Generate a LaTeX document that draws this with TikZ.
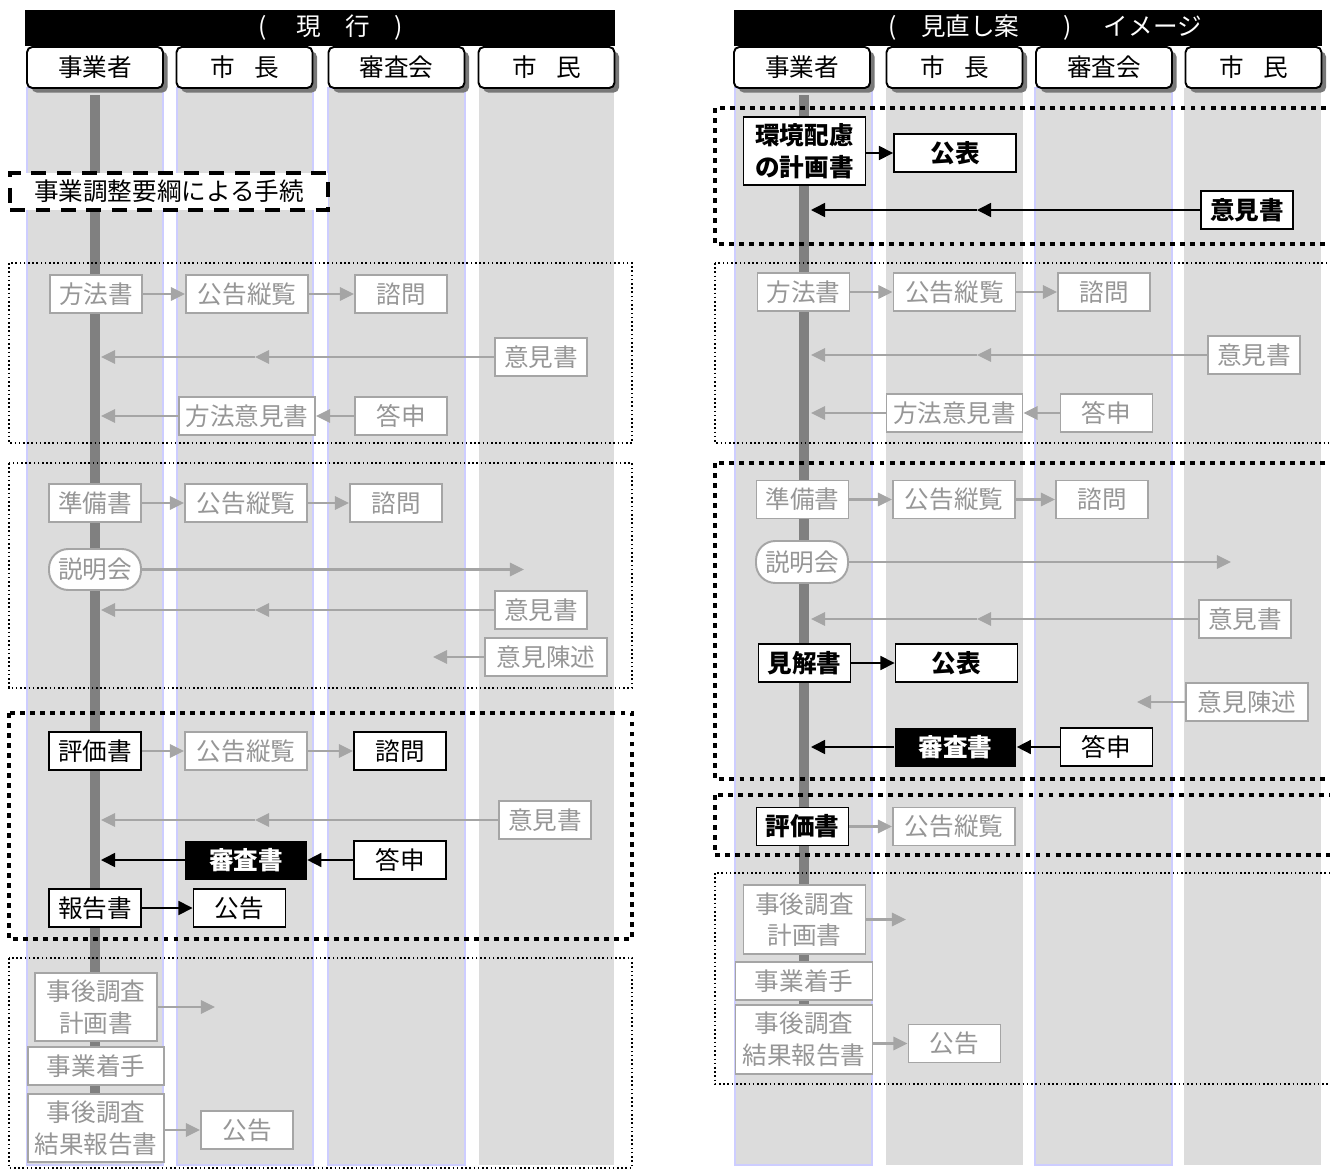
\documentclass[tikz,border=0pt]{standalone}
\usepackage{fontspec}
\setmainfont{Noto Sans CJK JP}
\usepackage{tikz}
\usetikzlibrary{arrows.meta,positioning,shadows}
\definecolor{eaLane}  {RGB}{220,220,220}
\definecolor{eaLaneB} {RGB}{205,205,255}
\definecolor{eaSpine} {RGB}{128,128,128}
\definecolor{eaGreyT} {RGB}{150,150,150}
\definecolor{eaGreyB} {RGB}{165,165,165}
\definecolor{eaShadow}{RGB}{120,120,120}

\begin{document}
\begin{tikzpicture}[x=0.02cm,y=-0.02cm,
  every node/.style={font=\fontsize{14}{18}\selectfont,inner sep=0pt},
  lane/.style={fill=eaLane},
  laneb/.style={fill=eaLane,draw=eaLaneB,line width=0.6pt},
  ttl/.style={fill=black,text=white,minimum height=0.72cm},
  head/.style={draw,fill=white,line width=1.1pt,rounded corners=3pt,
               minimum width=2.72cm,minimum height=0.82cm,
               drop shadow={shadow xshift=2.6pt,shadow yshift=-2.6pt,
                            fill=eaShadow,opacity=1}},
  spine/.style={draw=eaSpine,line width=5.7pt},
  gdoc/.style={draw=eaGreyB,fill=white,text=eaGreyT,line width=1.1pt,
               minimum width=1.84cm,minimum height=0.76cm,align=center},
  bdoc/.style={draw,fill=white,line width=1.1pt,
               minimum width=1.84cm,minimum height=0.76cm,align=center},
  bbdoc/.style={bdoc,font=\fontsize{14}{18}\selectfont\bfseries},
  sdoc/.style={fill=black,text=white,font=\fontsize{14}{18}\selectfont\bfseries,
               minimum width=2.44cm,minimum height=0.78cm},
  pill/.style={gdoc,rounded corners=11pt},
  garr/.style={draw=eaGreyB,line width=1.3pt,-{Triangle[length=8pt,width=7.5pt]}},
  barr/.style={draw=black,line width=0.9pt,-{Triangle[length=8pt,width=8pt]}},
  thinfr/.style={draw,line width=0.9pt,dash pattern=on 0.9pt off 1.5pt},
  thickfr/.style={draw,line width=2.8pt,dash pattern=on 2.8pt off 2.9pt},
  dashfr/.style={draw,fill=white,line width=1.9pt,dash pattern=on 8.5pt off 6pt}
]
\path[use as bounding box,clip] (0,0) rectangle (1330,1170);

% lanes
\fill[laneb] (27,88) rectangle (163,1165);
\fill[laneb] (177,88) rectangle (313,1165);
\fill[laneb] (328,88) rectangle (465,1165);
\fill[lane]  (479,88) rectangle (614,1165);
\fill[laneb] (735,88) rectangle (872,1165);
\fill[lane]  (886,88) rectangle (1023,1165);
\fill[laneb] (1035,88) rectangle (1172,1165);
\fill[lane]  (1184,88) rectangle (1321,1165);

\draw[spine] (95,95) -- (95,1098);
\draw[spine] (804,95) -- (804,1010);

\coordinate (spL) at (101,0);
\coordinate (midL) at (255,0);
\coordinate (spR) at (811,0);
\coordinate (midR) at (977,0);

% frames
\draw[thinfr]  (9,263) rectangle (632,443);
\draw[thinfr]  (9,463) rectangle (632,688);
\draw[thickfr] (9,713) rectangle (632,939);
\draw[thinfr]  (9,958) rectangle (632,1168);
\draw[thickfr] (715,108) rectangle (1345,244);
\draw[thinfr]  (715,263) rectangle (1345,443);
\draw[thickfr] (715,463) rectangle (1345,779);
\draw[thickfr] (715,795) rectangle (1345,855);
\draw[thinfr]  (715,873) rectangle (1345,1084);

% ---- current procedure
\node[ttl,minimum width=11.8cm] (ttlL) at (320,28)
  {\hspace{0.44cm}(\hspace{1.2em}現\hspace{1em}行\hspace{1em})};
\node[head] (hL1) at (95,67.5)  {事業者};
\node[head] (hL2) at (244.5,67.5) {市\hspace{0.8em}長};
\node[head] (hL3) at (396.5,67.5) {審査会};
\node[head] (hL4) at (546.5,67.5) {市\hspace{0.8em}民};

\node[dashfr,minimum width=6.36cm,minimum height=0.74cm] (prL) at (169,191.5)
  {事業調整要綱による手続};

\node[gdoc] (mL) at (96,294) {方法書};
\node[gdoc,minimum width=2.44cm] (kL1) at (247,294) {公告縦覧};
\node[gdoc] (sL1) at (401,294) {諮問};
\node[gdoc] (iL1) at (541,357) {意見書};
\node[gdoc,minimum width=2.72cm] (moL) at (247,416) {方法意見書};
\node[gdoc] (tL1) at (401,416) {答申};

\node[gdoc] (jL) at (95,503) {準備書};
\node[gdoc,minimum width=2.44cm] (kL2) at (246,503) {公告縦覧};
\node[gdoc] (sL2) at (396,503) {諮問};
\node[pill,minimum height=0.82cm] (eL) at (95,569.5) {説明会};
\coordinate (eLend) at (524,569.5);
\node[gdoc] (iL2) at (541,610) {意見書};
\node[gdoc,minimum width=2.44cm] (cL) at (546,657) {意見陳述};
\coordinate (cLend) at (433,657);

\node[bdoc] (hyL) at (95,751) {評価書};
\node[gdoc,minimum width=2.44cm] (kL3) at (246,751) {公告縦覧};
\node[bdoc] (sL3) at (400,751) {諮問};
\node[gdoc] (iL3) at (545,820) {意見書};
\node[sdoc] (shL) at (246,860) {審査書};
\node[bdoc] (tL3) at (400,860) {答申};
\node[bdoc] (rL) at (95,908) {報告書};
\node[bdoc] (pL) at (239.5,908) {公告};

\node[gdoc,minimum width=2.44cm,minimum height=1.36cm] (jgL) at (96,1007) {事後調査\\計画書};
\coordinate (jgLend) at (215,1007);
\node[gdoc,minimum width=2.72cm] (cjL) at (96,1066) {事業着手};
\node[gdoc,minimum width=2.72cm,minimum height=1.36cm] (jkL) at (96,1128) {事後調査\\結果報告書};
\node[gdoc] (pL2) at (247,1130) {公告};

\draw[garr] (mL) -- (kL1);
\draw[garr] (kL1) -- (sL1);
\draw[garr] (iL1.west) -- (iL1.west -| midL);
\draw[garr] (iL1.west -| midL) -- (iL1.west -| spL);
\draw[garr] (tL1) -- (moL);
\draw[garr] (moL.west) -- (moL.west -| spL);
\draw[garr] (jL) -- (kL2);
\draw[garr] (kL2) -- (sL2);
\draw[garr] (eL) -- (eLend);
\draw[garr] (iL2.west) -- (iL2.west -| midL);
\draw[garr] (iL2.west -| midL) -- (iL2.west -| spL);
\draw[garr] (cL) -- (cLend);
\draw[garr] (hyL) -- (kL3);
\draw[garr] (kL3) -- (sL3);
\draw[garr] (iL3.west) -- (iL3.west -| midL);
\draw[garr] (iL3.west -| midL) -- (iL3.west -| spL);
\draw[barr] (tL3) -- (shL);
\draw[barr] (shL.west) -- (shL.west -| spL);
\draw[barr] (rL) -- (pL);
\draw[garr] (jgL) -- (jgLend);
\draw[garr] (jkL.east |- pL2) -- (pL2);

% ---- revised procedure
\node[ttl,minimum width=11.76cm] (ttlR) at (1028,28)
  {\hspace{0.68cm}(\hspace{1em}見直し案\hspace{1.8em})\hspace{1.3em}イメージ};
\node[head] (hR1) at (802,67.5)    {事業者};
\node[head] (hR2) at (954.5,67.5)  {市\hspace{0.8em}長};
\node[head] (hR3) at (1104,67.5)   {審査会};
\node[head] (hR4) at (1253.5,67.5) {市\hspace{0.8em}民};

\node[bbdoc,minimum width=2.44cm,minimum height=1.36cm] (kpR) at (804.5,151) {環境配慮\\の計画書};
\node[bbdoc,minimum width=2.44cm] (kohR1) at (955,153) {公表};
\node[bbdoc] (iR0) at (1247,210) {意見書};

\node[gdoc] (mR) at (803.5,292) {方法書};
\node[gdoc,minimum width=2.44cm] (kR1) at (954.5,292) {公告縦覧};
\node[gdoc] (sR1) at (1104,292) {諮問};
\node[gdoc] (iR1) at (1254,355) {意見書};
\node[gdoc,minimum width=2.72cm] (moR) at (954.5,413) {方法意見書};
\node[gdoc] (tR1) at (1106.5,413) {答申};

\node[gdoc] (jR) at (802.5,499.5) {準備書};
\node[gdoc,minimum width=2.44cm] (kR2) at (954,499.5) {公告縦覧};
\node[gdoc] (sR2) at (1102,499.5) {諮問};
\node[pill,minimum height=0.84cm] (eR) at (802,562) {説明会};
\coordinate (eRend) at (1231,562);
\node[gdoc] (iR2) at (1245,619) {意見書};
\node[bbdoc] (kkR) at (804.5,663) {見解書};
\node[bbdoc,minimum width=2.44cm] (kohR2) at (956.5,663) {公表};
\node[gdoc,minimum width=2.44cm] (cR) at (1247,702) {意見陳述};
\coordinate (cRend) at (1137,702);
\node[sdoc] (shR) at (955.5,747) {審査書};
\node[bdoc] (tR2) at (1106.5,747) {答申};

\node[bbdoc] (hyR) at (802.5,826.5) {評価書};
\node[gdoc,minimum width=2.44cm] (kR3) at (954,826.5) {公告縦覧};

\node[gdoc,minimum width=2.44cm,minimum height=1.38cm] (jgR) at (804.5,919.5) {事後調査\\計画書};
\coordinate (jgRend) at (906,919.5);
\node[gdoc,minimum width=2.74cm] (cjR) at (804,981) {事業着手};
\node[gdoc,minimum width=2.74cm,minimum height=1.38cm] (jkR) at (804,1039.5) {事後調査\\結果報告書};
\node[gdoc] (pR) at (954.5,1043.5) {公告};

\draw[barr] (kpR.east |- kohR1) -- (kohR1);
\draw[barr] (iR0.west) -- (iR0.west -| midR);
\draw[barr] (iR0.west -| midR) -- (iR0.west -| spR);
\draw[garr] (mR) -- (kR1);
\draw[garr] (kR1) -- (sR1);
\draw[garr] (iR1.west) -- (iR1.west -| midR);
\draw[garr] (iR1.west -| midR) -- (iR1.west -| spR);
\draw[garr] (tR1) -- (moR);
\draw[garr] (moR.west) -- (moR.west -| spR);
\draw[garr] (jR) -- (kR2);
\draw[garr] (kR2) -- (sR2);
\draw[garr] (eR) -- (eRend);
\draw[garr] (iR2.west) -- (iR2.west -| midR);
\draw[garr] (iR2.west -| midR) -- (iR2.west -| spR);
\draw[barr] (kkR) -- (kohR2);
\draw[garr] (cR) -- (cRend);
\draw[barr] (tR2) -- (shR);
\draw[barr] (shR.west) -- (shR.west -| spR);
\draw[garr] (hyR) -- (kR3);
\draw[garr] (jgR) -- (jgRend);
\draw[garr] (jkR.east |- pR) -- (pR);
\end{tikzpicture}
\end{document}
